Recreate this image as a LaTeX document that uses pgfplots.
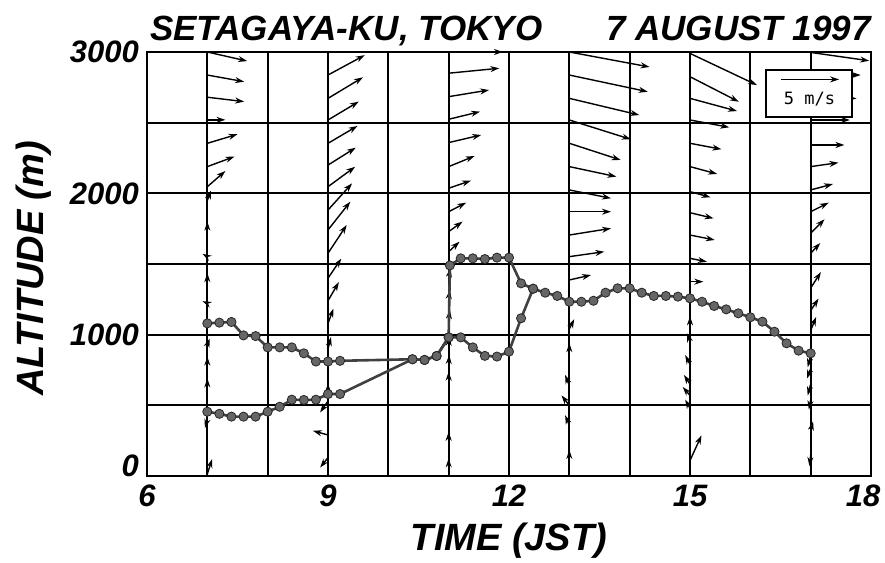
\documentclass[border=0pt]{standalone}
\usepackage{fontspec}
\setmainfont{Liberation Sans}
\newfontfamily\monofam{DejaVu Sans Mono}
\usepackage{pgfplots}
\pgfplotsset{compat=1.18}
\usetikzlibrary{arrows.meta}
\newcommand{\tl}[1]{\textbf{\textit{#1}}}
\begin{document}
\begin{tikzpicture}
\begin{axis}[
 scale only axis, width=724pt, height=424pt,
 xmin=6, xmax=18, ymin=0, ymax=3000,
 xtick={6,9,12,15,18}, minor xtick={7,8,10,11,13,14,16,17},
 xticklabels={\tl{6},\tl{9},\tl{12},\tl{15},\hspace*{-16pt}\tl{18}},
 ytick={0,1000,2000,3000}, minor ytick={500,1500,2500},
 yticklabels={\raisebox{10pt}[\height][\depth]{\tl{0}},\tl{1000},\tl{2000},\tl{3000}},
 grid=both,
 major grid style={black, line width=1.8pt},
 minor grid style={black, line width=1.8pt},
 axis line style={line width=2pt},
 major tick length=0pt, minor tick length=0pt,
 /pgf/number format/assume math mode=true,
 ticklabel style={font=\fontsize{31}{31}\selectfont\bfseries\itshape},
 yticklabel style={anchor=east, inner sep=0pt, xshift=-8pt},
 xticklabel style={anchor=north, inner sep=0pt, yshift=-9pt},
 xlabel={TIME (JST)}, ylabel={ALTITUDE (m)},
 label style={font=\fontsize{38}{38}\selectfont\bfseries\itshape},
 xlabel style={at={(axis description cs:0.5,-0.153)}, anchor=center},
 ylabel style={at={(axis description cs:-0.157,0.49)}, anchor=center},
 clip=false,
]
\coordinate (sw) at (rel axis cs:0,0);
% wind vectors (u in hours of time axis, v in metres)
\addplot[black, line width=1.4pt, -{Stealth[length=9pt,width=6pt,fill=black!50]},
  quiver={u=\thisrow{u},v=\thisrow{v}}] table {
x y u v
7 3000 0.66 -64
7 2837 0.61 -47
7 2680 0.61 -31
7 2520 0.30 0
7 2354 0.50 64
7 2189 0.45 71
7 2047 0.30 111
7 1950 0.06 70
7 1740 0 60
7 1552 -0.08 20
7 1375 0 60
7 1222 -0.08 15
7 927 0.04 45
7 785 0 60
7 620 0 70
7 400 -0.04 -60
7 15 0.08 105
9 2837 0.61 141
9 2672 0.58 149
9 2519 0.51 130
9 2354 0.49 123
9 2200 0.46 123
9 2047 0.45 141
9 1882 0.40 189
9 1741 0.37 200
9 1576 0.31 200
9 1400 0.22 138
9 1240 0.18 132
9 1080 0.09 104
9 900 0.05 83
9 600 0 55
9 530 -0.13 -80
9 290 -0.25 30
9 130 -0.13 -70
11 3000 0.90 0
11 2850 0.84 35
11 2684 0.67 47
11 2524 0.52 54
11 2359 0.54 54
11 2189 0.43 75
11 2036 0.37 54
11 1870 0.29 64
11 1729 0.23 71
11 1587 0.18 71
11 1400 0.03 70
11 1250 0.02 66
11 1100 0.02 75
11 920 0.01 66
11 790 0.01 66
11 670 0 68
11 245 0 68
11 55 0 70
13 3000 1.33 -106
13 2837 1.30 -118
13 2672 1.16 -118
13 2519 1.02 -137
13 2354 0.85 -118
13 2189 0.78 -71
13 2024 0.69 -59
13 1870 0.69 0
13 1705 0.69 47
13 1552 0.58 35
13 1387 0.36 35
13 1040 0.08 70
13 870 0 70
13 640 -0.07 75
13 500 -0.13 70
13 360 -0.07 70
13 110 0 75
15 2990 1.11 -224
15 2825 0.81 -177
15 2672 0.78 -90
15 2519 0.65 -52
15 2354 0.52 -42
15 2189 0.45 -52
15 2012 0.34 -40
15 1863 0.39 -40
15 1705 0.41 -35
15 1540 0.28 -24
15 1375 0.22 0
15 1060 0 70
15 950 -0.05 60
15 790 -0.08 65
15 650 -0.10 65
15 570 -0.12 60
15 480 -0.08 60
15 110 0.19 177
17 2997 0.97 -59
17 2837 0.83 0
17 2672 0.76 0
17 2519 0.65 0
17 2342 0.56 0
17 2189 0.46 28
17 2024 0.37 42
17 1870 0.30 64
17 1717 0.23 99
17 1576 0.16 73
17 1330 0.17 113
17 1170 0.13 85
17 1030 0.09 95
17 850 -0.05 -80
17 760 -0.06 -70
17 650 -0.05 -80
17 540 -0.03 -70
17 320 0.04 65
17 150 -0.02 -80
};
% mixed-layer height, first estimate
\addplot[line width=2.6pt, black!75, mark=*, mark size=4.6pt,
  mark options={fill=black!60, draw=black!85, line width=0.8pt}] table {
x y
7.0 1080
7.2 1085
7.4 1090
7.6 995
7.8 990
8.0 910
8.2 910
8.4 910
8.6 868
8.8 810
9.0 810
9.2 815
10.4 826
10.6 821
10.8 849
11.0 981
11.2 981
11.4 910
11.6 850
11.8 845
12.0 880
12.2 1116
12.4 1325
12.6 1297
12.8 1274
13.0 1233
13.2 1233
13.4 1240
13.6 1297
13.8 1328
14.0 1328
14.2 1297
14.4 1274
14.6 1274
14.8 1269
15.0 1257
15.2 1233
15.4 1203
15.6 1179
15.8 1151
16.0 1123
16.2 1092
16.4 1021
16.6 939
16.8 887
17.0 868
};
% mixed-layer height, second estimate
\addplot[line width=2.6pt, black!75, mark=*, mark size=4.6pt,
  mark options={fill=black!60, draw=black!85, line width=0.8pt}] table {
x y
7.0 455
7.2 440
7.4 420
7.6 420
7.8 420
8.0 455
8.2 490
8.4 540
8.6 538
8.8 540
9.0 580
9.2 580
10.4 826
10.6 821
10.8 849
11.0 981
11.02 1490
11.2 1540
11.4 1540
11.6 1535
11.8 1545
12.0 1545
12.2 1363
12.4 1325
};
% scale key
\node[draw, fill=white, line width=1.6pt, minimum width=86pt, minimum height=47pt, inner sep=0pt] at (axis cs:16.97,2707) {};
\addplot[black, line width=1.4pt, -{Stealth[length=9pt,width=6pt,fill=black!50]},
  quiver={u=0.96,v=0}] coordinates {(16.51,2806)};
\node[font=\monofam\fontsize{17}{17}\selectfont, inner sep=0pt] at (axis cs:16.98,2665) {5 m/s};
% titles
\node[anchor=base west, inner sep=0pt, xshift=3pt, yshift=11pt,
  font=\fontsize{35}{35}\selectfont\bfseries\itshape] at (rel axis cs:0,1) {SETAGAYA-KU, TOKYO};
\node[anchor=base east, inner sep=0pt, xshift=0pt, yshift=11pt,
  font=\fontsize{35}{35}\selectfont\bfseries\itshape] at (rel axis cs:1,1) {7 AUGUST 1997};
\end{axis}
\pgfresetboundingbox
\path[use as bounding box] ([xshift=-147pt,yshift=-86pt]sw) rectangle ++(885pt,562pt);
\end{tikzpicture}
\end{document}
